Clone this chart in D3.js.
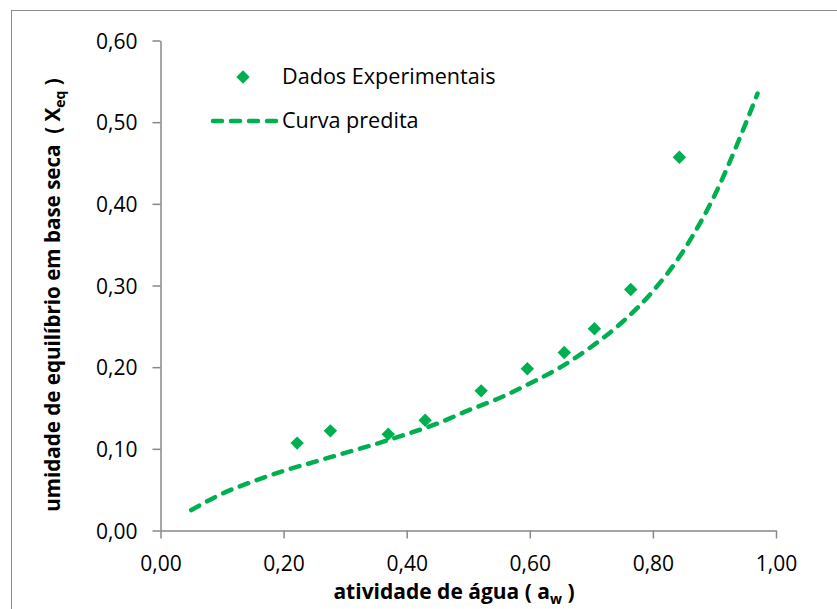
<!DOCTYPE html>
<html>
<head>
<meta charset="utf-8">
<script src="https://cdn.jsdelivr.net/npm/d3@7"></script>
<style>
  body { margin: 0; background: #fff; }
  svg { font-family: "Open Sans", sans-serif; }
  text { white-space: pre; }
</style>
</head>
<body>
<svg class="chart"></svg>
<script>
const width = 837;
const height = 609;

// dados experimentais (aw, Xeq)
const awExp = [0.222, 0.276, 0.370, 0.430, 0.521, 0.596, 0.656, 0.705, 0.764, 0.843];
const xeqExp = [0.107, 0.122, 0.118, 0.135, 0.171, 0.198, 0.218, 0.247, 0.295, 0.457];

// curva predita
const awPred = [0.05, 0.10, 0.15, 0.20, 0.25, 0.30, 0.35, 0.40, 0.45, 0.50, 0.55, 0.60, 0.65, 0.70, 0.75, 0.80, 0.85, 0.90, 0.95, 0.97];
const xeqPred = [0.025, 0.045, 0.060, 0.073, 0.084, 0.095, 0.106, 0.118, 0.131, 0.147, 0.162, 0.180, 0.200, 0.225, 0.255, 0.293, 0.343, 0.410, 0.497, 0.535];

const xTicks = [0, 0.2, 0.4, 0.6, 0.8, 1.0];
const yTicks = [0, 0.1, 0.2, 0.3, 0.4, 0.5, 0.6];

const green = "#00b050";
const axisColor = "#898989";

const svg = d3.select('.chart')
  .attr('width', width).attr('height', height);

// moldura do grafico
svg.append('rect')
  .attr('x', 11.5).attr('y', 10.5)
  .attr('width', 900).attr('height', 700)
  .attr('fill', 'none')
  .attr('stroke', '#8c8c8c')
  .attr('stroke-width', 1);

const x = d3.scaleLinear().domain([0, 1]).range([160.5, 776]);
const y = d3.scaleLinear().domain([0, 0.6]).range([530.5, 40.5]);

const ptBR = d3.formatLocale({ decimal: ",", thousands: ".", grouping: [3], currency: ["", ""] });
const fmt = ptBR.format(".2f");

const xAxis = svg.append('g')
  .attr('transform', `translate(0,${y(0)})`)
  .call(d3.axisBottom(x).tickValues(xTicks).tickFormat(fmt).tickSize(8).tickSizeOuter(0));

const yAxis = svg.append('g')
  .attr('transform', `translate(${x(0)},0)`)
  .call(d3.axisLeft(y).tickValues(yTicks).tickFormat(fmt).tickSize(8).tickSizeOuter(0));

[xAxis, yAxis].forEach(a => {
  a.selectAll('path, line').attr('stroke', axisColor).attr('stroke-width', 1.5);
  a.selectAll('text')
    .attr('fill', '#000')
    .style('font-size', '21px')
    .style('font-family', '"Open Sans", sans-serif');
});
xAxis.selectAll('text').attr('dy', null).attr('y', 40);
yAxis.selectAll('text').attr('x', -23).attr('dy', '0.36em');

// curva predita
const line = d3.line()
  .x((d, i) => x(awPred[i]))
  .y(d => y(d))
  .curve(d3.curveMonotoneX);

svg.append('path')
  .datum(xeqPred)
  .attr('d', line)
  .attr('fill', 'none')
  .attr('stroke', green)
  .attr('stroke-width', 4.5)
  .attr('stroke-linecap', 'round')
  .attr('stroke-dasharray', '9,9');

// pontos experimentais
const diamond = d3.symbol().type(d3.symbolDiamond2).size(115);
svg.selectAll('.ponto')
  .data(xeqExp)
  .enter()
  .append('path')
  .attr('class', 'ponto')
  .attr('d', diamond)
  .attr('transform', (d, i) => `translate(${x(awExp[i])},${y(d)})`)
  .attr('fill', green);

// legenda
const legend = svg.append('g');
legend.append('path')
  .attr('d', diamond)
  .attr('transform', 'translate(243,77)')
  .attr('fill', green);
legend.append('text')
  .attr('x', 282).attr('y', 84)
  .style('font-size', '21.6px')
  .text('Dados Experimentais');
legend.append('line')
  .attr('x1', 213).attr('x2', 276)
  .attr('y1', 121).attr('y2', 121)
  .attr('stroke', green)
  .attr('stroke-width', 4.5)
  .attr('stroke-linecap', 'round')
  .attr('stroke-dasharray', '9,9');
legend.append('text')
  .attr('x', 282).attr('y', 128)
  .style('font-size', '21.6px')
  .text('Curva predita');

// titulos dos eixos
const xTitle = svg.append('text')
  .attr('x', 454).attr('y', 599)
  .attr('text-anchor', 'middle')
  .style('font-size', '21px')
  .style('font-weight', 'bold');
xTitle.append('tspan').text('atividade de água ( a');
xTitle.append('tspan').attr('dy', 5).style('font-size', '14px').text('w');
xTitle.append('tspan').attr('dy', -5).text(' )');

const yTitle = svg.append('text')
  .attr('transform', 'translate(60,295) rotate(-90)')
  .attr('text-anchor', 'middle')
  .style('font-size', '20.6px')
  .style('font-weight', 'bold');
yTitle.append('tspan').text('umidade de equilíbrio em base seca  ( X');
yTitle.append('tspan').attr('dy', 5).style('font-size', '14px').text('eq');
yTitle.append('tspan').attr('dy', -5).text(' )');
</script>
</body>
</html>
